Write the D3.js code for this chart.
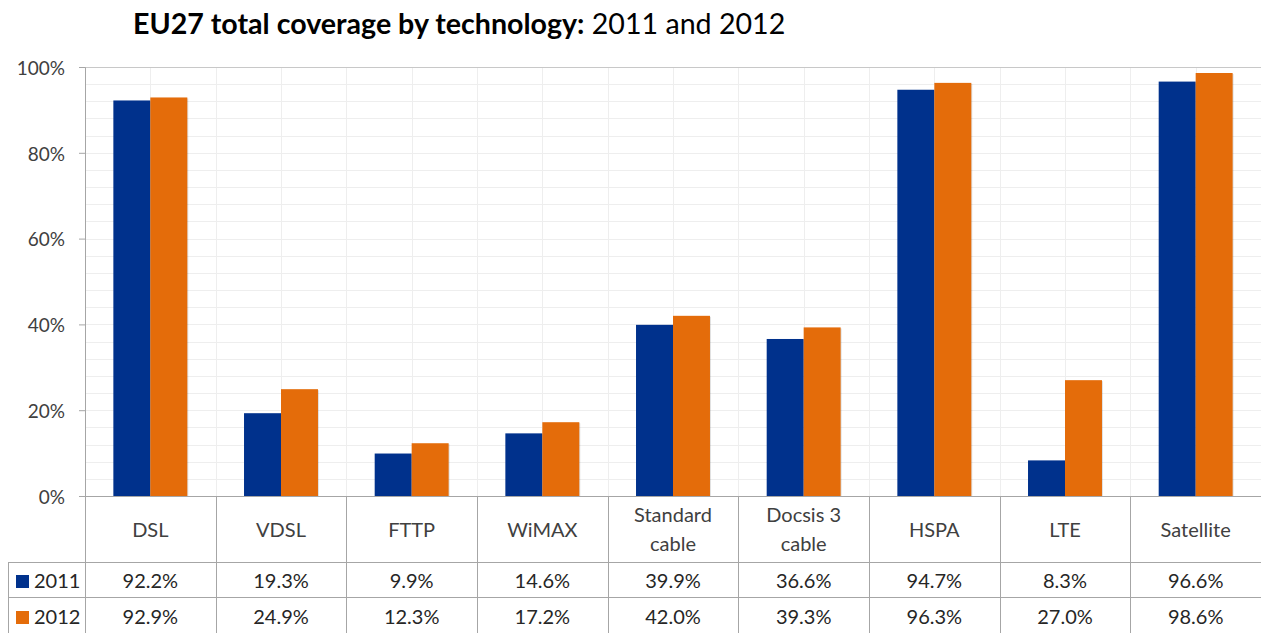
<!DOCTYPE html>
<html><head><meta charset="utf-8">
<script src="https://cdn.jsdelivr.net/npm/d3@7"></script>
<style>body{margin:0;background:#fff;} text{font-family:Lato, "Open Sans", sans-serif;}</style>
</head><body>
<svg id="c" width="1261" height="633"></svg>
<script>
const categories = ["DSL","VDSL","FTTP","WiMAX","Standard\ncable","Docsis 3\ncable","HSPA","LTE","Satellite"];
const years = ["2011","2012"];
const values2011 = [92.2,19.3,9.9,14.6,39.9,36.6,94.7,8.3,96.6];
const values2012 = [92.9,24.9,12.3,17.2,42.0,39.3,96.3,27.0,98.6];
const yTicks = [0,20,40,60,80,100];
const colors = ["#00318c","#e46c0a"];

const svg = d3.select("#c");
const L = 85, R = 1261, T = 67, B = 496;
const row1 = 562, row2 = 597, bottom = 633;
const x = d3.scaleBand().domain(categories).range([L, R]);
const y = d3.scaleLinear().domain([0,100]).range([B, T]);
const xs = d3.scaleBand().domain(years).range([0, x.bandwidth()*0.566]);

const grid = svg.append("g");
grid.selectAll("line.h").data(d3.range(4,100,4)).join("line")
  .attr("x1",L).attr("x2",R).attr("y1",d=>Math.round(y(d))+0.5).attr("y2",d=>Math.round(y(d))+0.5)
  .attr("stroke","#eeeeee").attr("stroke-width",1);
const vx = [];
categories.forEach(c=>{vx.push(x(c)+x.bandwidth()/2); vx.push(x(c)+x.bandwidth());});
grid.selectAll("line.v").data(vx).join("line")
  .attr("x1",d=>Math.round(d)+0.5).attr("x2",d=>Math.round(d)+0.5).attr("y1",T).attr("y2",B)
  .attr("stroke","#eeeeee").attr("stroke-width",1);
svg.append("line").attr("x1",L).attr("x2",R).attr("y1",T+0.5).attr("y2",T+0.5).attr("stroke","#c8c8c8");

const series = [values2011, values2012];
const gbar = svg.append("g");
categories.forEach((c,i)=>{
  years.forEach((yr,j)=>{
    const v = series[j][i];
    const bx = x(c)+x.bandwidth()/2 - xs.range()[1]/2 + xs(yr);
    gbar.append("rect").attr("x",bx+1).attr("y",y(v)+1).attr("width",xs.bandwidth()).attr("height",B-y(v)-1)
      .attr("fill","rgba(0,0,0,0.12)");
    gbar.append("rect").attr("x",bx).attr("y",y(v)).attr("width",xs.bandwidth()).attr("height",B-y(v))
      .attr("fill",colors[j]);
  });
});

const yAxis = d3.axisLeft(y).tickValues(yTicks).tickFormat(d=>d+"%").tickSize(6).tickPadding(14);
const ga = svg.append("g").attr("transform",`translate(${L},0)`).call(yAxis);
ga.select(".domain").attr("stroke","#a6a6a6").attr("d",`M-6,${T+0.5}H0.5V${B}`);
ga.selectAll(".tick line").attr("stroke","#a6a6a6");
ga.selectAll(".tick text").attr("fill","#404040").style("font-size","19px").attr("dy","0.38em");

const tc = "#a6a6a6";
const tbl = svg.append("g").attr("stroke",tc).attr("stroke-width",1);
tbl.append("line").attr("x1",L).attr("x2",R).attr("y1",B+0.5).attr("y2",B+0.5);
tbl.append("line").attr("x1",8).attr("x2",R).attr("y1",row1+0.5).attr("y2",row1+0.5);
tbl.append("line").attr("x1",8).attr("x2",R).attr("y1",row2+0.5).attr("y2",row2+0.5);
tbl.append("line").attr("x1",8.5).attr("x2",8.5).attr("y1",row1).attr("y2",bottom);
tbl.selectAll("line.cv").data([L].concat(categories.map(c=>x(c)+x.bandwidth()))).join("line")
  .attr("x1",d=>Math.round(d)+0.5).attr("x2",d=>Math.round(d)+0.5).attr("y1",B).attr("y2",bottom);

const cl = svg.append("g");
categories.forEach(c=>{
  const lines = c.split("\n");
  const cx = x(c)+x.bandwidth()/2;
  const t = cl.append("text").attr("text-anchor","middle").attr("fill","#404040").style("font-size","20px");
  if(lines.length===1){
    t.append("tspan").attr("x",cx).attr("y",537).text(lines[0]);
  } else {
    t.append("tspan").attr("x",cx).attr("y",522).text(lines[0]);
    t.append("tspan").attr("x",cx).attr("y",551).text(lines[1]);
  }
});

const rowsY = [588, 624];
series.forEach((vals,j)=>{
  svg.append("g").selectAll("text").data(vals).join("text")
    .attr("x",(d,i)=>x(categories[i])+x.bandwidth()/2).attr("y",rowsY[j])
    .attr("text-anchor","middle").attr("fill","#262626").style("font-size","20px")
    .text(d=>d.toFixed(1)+"%");
  svg.append("rect").attr("x",16).attr("y",rowsY[j]-13).attr("width",13).attr("height",13).attr("fill",colors[j]);
  svg.append("text").attr("x",34).attr("y",rowsY[j]).attr("fill","#262626").style("font-size","20px").text(years[j]);
});

const title = svg.append("text").attr("x",133).attr("y",34).attr("fill","#000").style("font-size","28.6px");
title.append("tspan").style("font-weight","bold").text("EU27 total coverage by technology:");
title.append("tspan").text(" 2011 and 2012");
</script>
</body></html>
